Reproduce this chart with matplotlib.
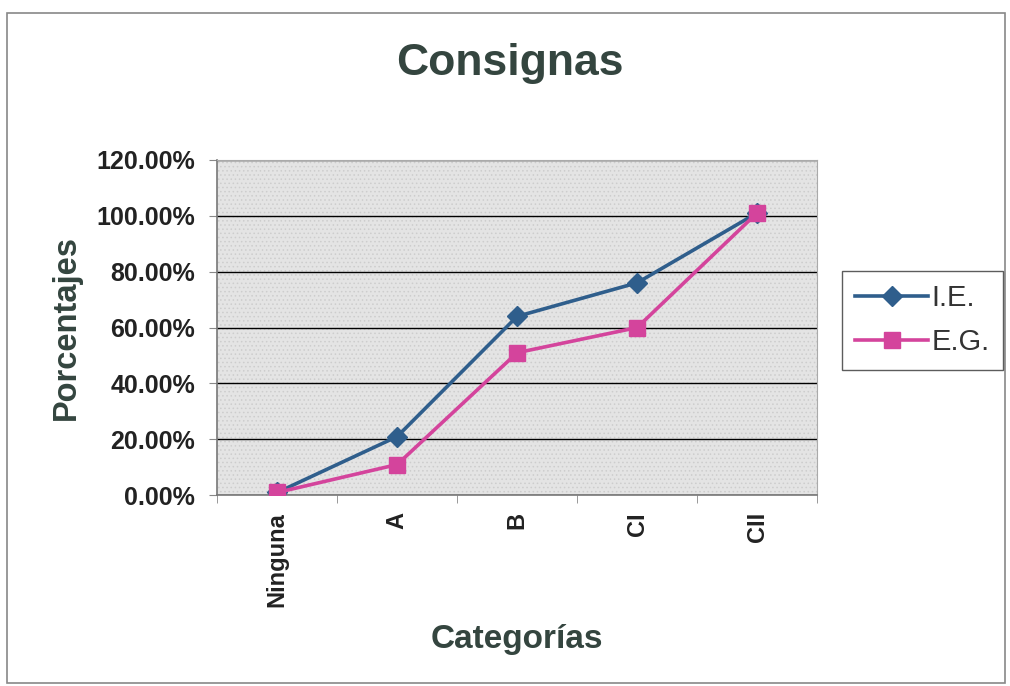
import numpy as np
import matplotlib.pyplot as plt
from matplotlib.patches import Rectangle
from matplotlib.ticker import FuncFormatter, FixedLocator

# ======================================================
# DATA
# ======================================================
categorias = ["Ninguna", "A", "B", "CI", "CII"]
ie_vals = [0.01, 0.21, 0.64, 0.76, 1.01]
eg_vals = [0.01, 0.11, 0.51, 0.60, 1.01]
y_ticks = [0.0, 0.2, 0.4, 0.6, 0.8, 1.0, 1.2]

title_color = "#34453f"
ie_color = "#2f5e8c"
eg_color = "#d4449c"

plt.rcParams["font.family"] = ["Liberation Sans", "DejaVu Sans"]
plt.rcParams["hatch.linewidth"] = 0.6

fig = plt.figure(figsize=(10.1, 6.86), dpi=100)
ax = fig.add_axes([0.215, 0.278, 0.594, 0.489])

x = np.arange(len(categorias))

# stippled grey plot area (Excel-like pattern)
ax.set_facecolor("#e4e4e4")
ax.add_patch(Rectangle((0, 0), 1, 1, transform=ax.transAxes, facecolor="none",
                       edgecolor="#cdcdcd", hatch="....", linewidth=0, zorder=0))

ax.plot(x, ie_vals, color=ie_color, linewidth=2.6, marker="D", markersize=10,
        label="I.E.", zorder=3)
ax.plot(x, eg_vals, color=eg_color, linewidth=2.6, marker="s", markersize=11.5,
        label="E.G.", zorder=4)

# axes / grid
ax.set_xlim(-0.5, len(categorias) - 0.5)
ax.set_ylim(0, 1.2)
ax.yaxis.set_major_locator(FixedLocator(y_ticks))
ax.yaxis.set_major_formatter(FuncFormatter(lambda v, p: f"{v * 100:.2f}%"))
ax.grid(axis="y", color="black", linewidth=1.0)
ax.set_axisbelow(True)

ax.set_xticks(x)
ax.set_xticklabels(categorias, rotation=90, fontsize=17, fontweight="bold")
ax.set_xticks(np.arange(-0.5, len(categorias)), minor=True)
ax.tick_params(axis="x", which="major", length=0, pad=12)
ax.tick_params(axis="x", which="minor", length=6, color="#888888")
ax.tick_params(axis="y", length=6, color="#888888", labelsize=18, pad=10)
for lbl in ax.get_yticklabels():
    lbl.set_fontweight("bold")
    lbl.set_color("#222222")
for lbl in ax.get_xticklabels():
    lbl.set_color("#222222")

for side in ["top", "right"]:
    ax.spines[side].set_color("#aaaaaa")
for side in ["left", "bottom"]:
    ax.spines[side].set_color("#777777")
    ax.spines[side].set_linewidth(1.2)

ax.set_ylabel("Porcentajes", fontsize=23.5, fontweight="bold", color=title_color,
              labelpad=10)
ax.set_xlabel("Categorías", fontsize=24, fontweight="bold", color=title_color,
              labelpad=12)
fig.text(0.505, 0.907, "Consignas", fontsize=32, fontweight="bold",
         color=title_color, ha="center", va="center")

leg = fig.legend(loc="center left", bbox_to_anchor=(0.834, 0.533),
                 borderaxespad=0, fontsize=21, frameon=True, fancybox=False,
                 handlelength=2.5, handletextpad=0.1, borderpad=0.45,
                 labelspacing=0.55)
leg.get_frame().set_edgecolor("#333333")
leg.get_frame().set_linewidth(1.0)
for t in leg.get_texts():
    t.set_color("#333333")

# outer chart border
fig.patches.append(Rectangle((0.007, 0.005), 0.988, 0.976, transform=fig.transFigure,
                             fill=False, edgecolor="#888888", linewidth=1.2))

fig.savefig("out.png", dpi=100)
